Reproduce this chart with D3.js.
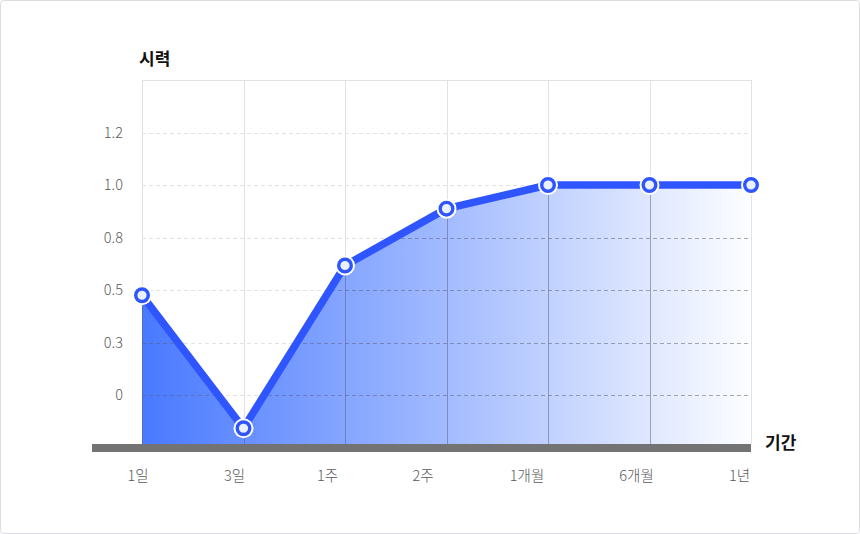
<!DOCTYPE html>
<meta charset="utf-8">
<style>
    body { margin: 0; background: #fff; }
    text { font-family: "Noto Sans CJK KR", "Noto Sans", sans-serif; }
    .tick-label { fill: #5a5a5a; font-size: 14.5px; font-weight: 300; }
    .axis-title { fill: #111; font-size: 17px; font-weight: 700; }
    .grid-light line { stroke: #e2e2e2; stroke-width: 1px; shape-rendering: crispEdges; }
    .grid-dark line { stroke: rgba(90,90,100,0.4); stroke-width: 1px; shape-rendering: crispEdges; }
    .dashed { stroke-dasharray: 4 3; }
    .vLine { fill: none; stroke: #2f55ff; stroke-width: 7.5px; stroke-linejoin: round; }
</style>
<body>
<script src="https://d3js.org/d3.v7.min.js"></script>
<script>

    // data
    var periods = ["1일", "3일", "1주", "2주", "1개월", "6개월", "1년"];
    var acuity = [0.48, -0.19, 0.64, 0.91, 1.0, 1.0, 1.0];
    var yTicks = [0, 0.3, 0.5, 0.8, 1.0, 1.2];
    var yTickLabels = ["0", "0.3", "0.5", "0.8", "1.0", "1.2"];
    // the x labels in the original are not quite centred on their gridlines
    var labelShift = [-4, -9, -17.5, -23.5, -21, -13, -11.5];

    var W = 860, H = 534;
    var plotLeft = 142, plotRight = 751, plotTop = 80, base = 444;
    var y0 = 395, step = 52.5;

    var data = periods.map(function(p, i) { return {period: p, value: acuity[i]}; });

    var svg = d3.select("body").append("svg")
        .attr("width", W)
        .attr("height", H);

    // frame
    svg.append("rect")
        .attr("x", 0.5).attr("y", 0.5)
        .attr("width", W - 1).attr("height", H - 1)
        .attr("rx", 3)
        .attr("fill", "#fff")
        .attr("stroke", "#dcdce0");

    var x = d3.scalePoint().domain(periods).range([plotLeft, plotRight]);
    // the ticks are evenly spaced even though the values are not
    var y = d3.scaleLinear()
        .domain(yTicks)
        .range(yTicks.map(function(t, i) { return y0 - i * step; }));

    var defs = svg.append("defs");
    var grad = defs.append("linearGradient")
        .attr("id", "fade")
        .attr("gradientUnits", "userSpaceOnUse")
        .attr("x1", plotLeft).attr("x2", plotRight)
        .attr("y1", 0).attr("y2", 0);
    grad.append("stop").attr("offset", "0%").attr("stop-color", "#3f72ff").attr("stop-opacity", 0.95);
    grad.append("stop").attr("offset", "100%").attr("stop-color", "#3f72ff").attr("stop-opacity", 0.01);

    var area = d3.area()
        .x(function(d) { return x(d.period); })
        .y0(base)
        .y1(function(d) { return y(d.value); });

    var line = d3.line()
        .x(function(d) { return x(d.period); })
        .y(function(d) { return y(d.value); });

    defs.append("clipPath").attr("id", "areaClip")
        .append("path").datum(data).attr("d", area);

    function drawGrid(g) {
        g.selectAll(".vg").data(periods).enter().append("line")
            .attr("class", "vg")
            .attr("x1", function(d) { return x(d) + 0.5; })
            .attr("x2", function(d) { return x(d) + 0.5; })
            .attr("y1", plotTop).attr("y2", base);
        g.selectAll(".hg").data(yTicks).enter().append("line")
            .attr("class", "hg dashed")
            .attr("x1", plotLeft).attr("x2", plotRight)
            .attr("y1", function(d) { return Math.round(y(d)) + 0.5; })
            .attr("y2", function(d) { return Math.round(y(d)) + 0.5; });
    }

    // light gridlines
    var gl = svg.append("g").attr("class", "grid-light");
    drawGrid(gl);
    gl.append("line")
        .attr("x1", plotLeft).attr("x2", plotRight + 1)
        .attr("y1", plotTop + 0.5).attr("y2", plotTop + 0.5);

    // area
    svg.append("path")
        .datum(data)
        .attr("fill", "url(#fade)")
        .attr("d", area);

    // darker gridlines on top of the area
    var gd = svg.append("g").attr("class", "grid-dark").attr("clip-path", "url(#areaClip)");
    drawGrid(gd);

    // base bar
    svg.append("rect")
        .attr("x", 92).attr("y", base)
        .attr("width", plotRight - 92).attr("height", 8)
        .attr("fill", "#737373");

    // line
    svg.append("path")
        .datum(data)
        .attr("class", "vLine")
        .attr("d", line);

    // points
    var pts = svg.append("g").selectAll("g").data(data).enter().append("g")
        .attr("transform", function(d) { return "translate(" + x(d.period) + "," + y(d.value) + ")"; });
    pts.append("circle").attr("r", 10).attr("fill", "#fff");
    pts.append("circle").attr("r", 6.3)
        .attr("fill", "#e9f1ff")
        .attr("stroke", "#2f55ff")
        .attr("stroke-width", 3.4);

    // y labels
    svg.append("g").selectAll("text").data(yTicks).enter().append("text")
        .attr("class", "tick-label")
        .attr("x", 123)
        .attr("y", function(d) { return y(d); })
        .attr("dy", "0.35em")
        .attr("text-anchor", "end")
        .text(function(d, i) { return yTickLabels[i]; });

    // x labels
    svg.append("g").selectAll("text").data(periods).enter().append("text")
        .attr("class", "tick-label")
        .attr("x", function(d, i) { return x(d) + labelShift[i]; })
        .attr("y", 476)
        .attr("dy", "0.35em")
        .attr("text-anchor", "middle")
        .text(function(d) { return d; });

    // axis titles
    svg.append("text")
        .attr("class", "axis-title")
        .attr("x", 139).attr("y", 65)
        .text("시력");
    svg.append("text")
        .attr("class", "axis-title")
        .attr("x", 765).attr("y", 449)
        .text("기간");

</script>
</body>
